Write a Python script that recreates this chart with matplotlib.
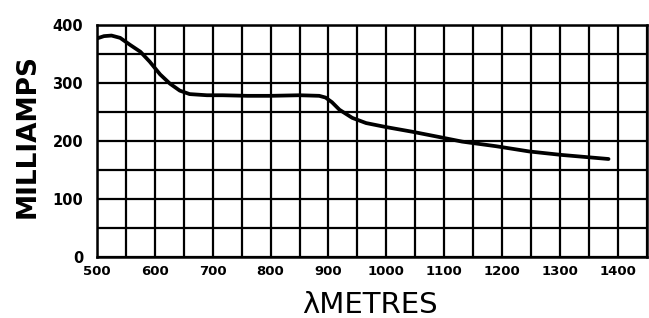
import matplotlib
matplotlib.use("Agg")
import matplotlib.pyplot as plt
import numpy as np

# curve: wavelength (metres) vs current (milliamps)
wavelength = [500, 512, 525, 540, 557, 575, 591, 600, 609, 626, 643, 660,
              690, 717, 760, 800, 850, 884, 895, 906, 919, 941, 965, 1000,
              1045, 1091, 1131, 1190, 1247, 1303, 1384]
milliamps = [377, 381, 382, 378, 366, 354, 337, 326, 315, 299, 287, 281,
             279, 279, 278, 278, 279, 278, 275, 267, 254, 240, 231, 224,
             216, 207, 199, 191, 182, 176, 169]

x_ticks = [500, 600, 700, 800, 900, 1000, 1100, 1200, 1300, 1400]
y_ticks = [0, 100, 200, 300, 400]

fig = plt.figure(figsize=(6.49, 3.18), dpi=100)
ax = fig.add_axes([0.1495, 0.192, 0.847, 0.729])

ax.plot(wavelength, milliamps, color="black", linewidth=2.7,
        solid_capstyle="round", solid_joinstyle="round", zorder=3)

ax.set_xlim(500, 1450)
ax.set_ylim(0, 400)

# grid every 50 units both ways
ax.set_xticks(x_ticks)
ax.set_yticks(y_ticks)
ax.set_xticks(np.arange(550, 1451, 100), minor=True)
ax.set_yticks(np.arange(50, 401, 100), minor=True)
ax.grid(which="both", color="black", linewidth=1.6)
ax.set_xticklabels([str(v) for v in x_ticks], fontsize=9.5, fontweight="bold")
ax.set_yticklabels([str(v) for v in y_ticks], fontsize=10.5, fontweight="bold")
ax.tick_params(which="both", length=0)
ax.tick_params(axis="x", pad=6)
ax.tick_params(axis="y", pad=10)

for s in ax.spines.values():
    s.set_linewidth(1.8)
    s.set_color("black")

fig.text(28 / 649, 1 - 136 / 318, "MILLIAMPS", fontsize=19, fontweight="bold",
         rotation=90, ha="center", va="center")
fig.text(370 / 649, 1 - 305 / 318, "λMETRES", fontsize=21,
         ha="center", va="center")

fig.savefig("out.png", dpi=100)
